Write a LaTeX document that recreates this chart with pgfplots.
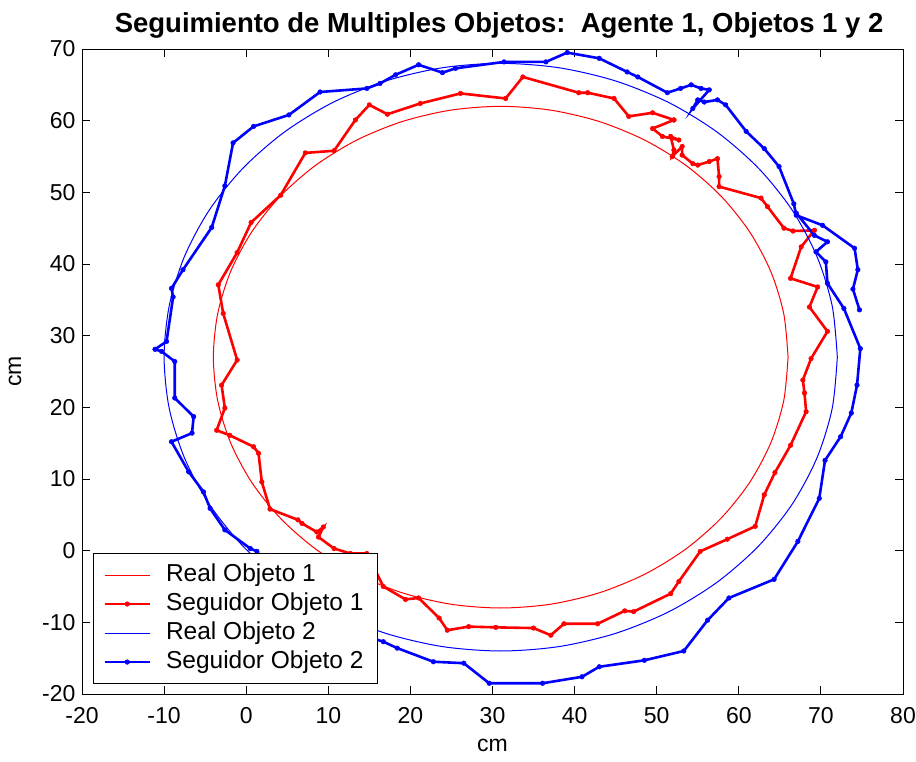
\documentclass[border=0pt]{standalone}
\usepackage{pgfplots}
\pgfplotsset{compat=1.18}
\usepackage{fontspec}
\setmainfont{Liberation Sans}

\newcommand\labfont{\fontsize{23bp}{27bp}\selectfont}
\newcommand\legfont{\fontsize{24.5bp}{29bp}\selectfont}
\newcommand\titfont{\fontsize{27.5bp}{31bp}\selectfont\bfseries}

\begin{document}
\begin{tikzpicture}
\begin{axis}[
  scale only axis, width=821bp, height=645bp,
  xmin=-20, xmax=80, ymin=-20, ymax=70,
  xtick={-20,-10,...,80}, ytick={-20,-10,...,70},
  tick align=inside, major tick length=8bp,
  axis line style={line width=0.9bp},
  every tick/.style={black, line width=0.9bp},
  tick label style={font=\labfont},
  xticklabel style={yshift=-10bp},
  yticklabel style={xshift=-3bp},
  /pgf/number format/assume math mode=true,
  xlabel={cm}, ylabel={cm},
  label style={font=\labfont},
  xlabel style={at={(axis description cs:0.5,-0.079)}, anchor=center},
  ylabel style={at={(axis description cs:-0.0816,0.5)}, anchor=center},
  title={Seguimiento de Multiples Objetos:\ \ Agente 1, Objetos 1 y 2},
  title style={font=\titfont, at={(axis description cs:0.508,1.028)}, anchor=center},
  legend style={at={(axis description cs:0.0134,0.0155)}, anchor=south west,
    font=\legfont, draw=black, line width=0.9bp, fill=white,
    inner xsep=10bp, inner ysep=7bp,
    nodes={inner xsep=4bp, inner ysep=2.5bp, text height=18bp, text depth=6bp},
    /tikz/every odd column/.append style={column sep=11bp}},
  legend cell align=left,
  legend image code/.code={\draw[mark repeat=2,mark phase=2,#1]
    plot coordinates {(0bp,0bp) (22.5bp,0bp) (45bp,0bp)};},
]
\coordinate (ll) at (rel axis cs:0,0);

% true trajectory of object 1 (circle, r = 35 around (31,27))
\addplot[red, line width=1bp, smooth] coordinates {
(66,27) (65.47,33.08) (63.89,38.97) (61.31,44.5) (57.81,49.5) (53.5,53.81)
(48.5,57.31) (42.97,59.89) (37.08,61.47) (31,62) (24.92,61.47) (19.03,59.89)
(13.5,57.31) (8.5,53.81) (4.19,49.5) (0.69,44.5) (-1.89,38.97) (-3.47,33.08)
(-4,27) (-3.47,20.92) (-1.89,15.03) (0.69,9.5) (4.19,4.5) (8.5,0.19)
(13.5,-3.31) (19.03,-5.89) (24.92,-7.47) (31,-8) (37.08,-7.47) (42.97,-5.89)
(48.5,-3.31) (53.5,0.19) (57.81,4.5) (61.31,9.5) (63.89,15.03) (65.47,20.92) (66,27)};
\addlegendentry{Real Objeto 1}

% tracker estimate for object 1
\addplot[red, line width=2.6bp, mark=*, mark size=2.3bp,
  mark options={line width=0.5bp, fill=red}] coordinates {
(52.1,60.1) (49.5,58.9) (50.7,57.8) (52.7,57.3) (51.7,57.8) (52.1,55.9) (51.9,55.0)
(53.1,56.4) (53.1,55.2) (54.4,54.0) (55.0,53.8) (56.4,54.3) (57.4,54.7) (57.6,52.2)
(57.6,50.8) (62.7,49.2) (63.5,48.0) (65.5,45.0) (66.6,44.6) (69.2,44.7) (67.6,42.4)
(66.3,38.0) (69.6,36.8) (68.6,34.0) (70.8,30.6) (68.8,26.8) (67.8,23.8) (68.0,22.0)
(68.2,19.4) (66.3,14.7) (64.4,10.9) (63.1,7.8) (62.0,3.4) (58.6,1.6) (55.3,-0.1)
(52.7,-4.3) (51.7,-6.0) (47.2,-8.5) (46.1,-8.4) (42.8,-10.2) (38.7,-10.2) (37.1,-11.8)
(35.0,-10.8) (30.4,-10.7) (27.1,-10.6) (24.5,-11.1) (23.5,-9.4) (21.0,-6.6) (19.4,-6.8)
(16.7,-5.0) (14.7,-0.4) (12.7,-0.4) (10.7,0.3) (8.8,1.9) (9.4,3.3) (8.6,2.6) (6.8,3.8)
(6.3,4.3) (2.9,5.8) (1.9,9.6) (1.5,13.6) (0.9,14.5) (-2.0,16.1) (-3.6,16.8) (-2.6,19.9)
(-3.0,23.1) (-1.1,26.6) (-2.8,33.1) (-3.4,37.1) (-1.1,41.6) (0.6,45.8) (4.2,49.6)
(7.2,55.5) (10.7,55.8) (13.3,60.1) (15.0,62.2) (17.2,60.9) (21.2,62.4) (26.1,63.8)
(31.6,63.1) (33.7,66.1) (40.5,63.9) (41.6,63.9) (44.8,63.1) (46.6,60.6) (49.5,61.1)
(52.1,60.1)};
\addlegendentry{Seguidor Objeto 1}

% true trajectory of object 2 (circle, r = 41 around (31,27))
\addplot[blue, line width=1bp, smooth] coordinates {
(72,27) (71.38,34.12) (69.53,41.02) (66.51,47.5) (62.41,53.35) (57.35,58.41)
(51.5,62.51) (45.02,65.53) (38.12,67.38) (31,68) (23.88,67.38) (16.98,65.53)
(10.5,62.51) (4.65,58.41) (-0.41,53.35) (-4.51,47.5) (-7.53,41.02) (-9.38,34.12)
(-10,27) (-9.38,19.88) (-7.53,12.98) (-4.51,6.5) (-0.41,0.65) (4.65,-4.41)
(10.5,-8.51) (16.98,-11.53) (23.88,-13.38) (31,-14) (38.12,-13.38) (45.02,-11.53)
(51.5,-8.51) (57.35,-4.41) (62.41,0.65) (66.51,6.5) (69.53,12.98) (71.38,19.88) (72,27)};
\addlegendentry{Real Objeto 2}

% tracker estimate for object 2
\addplot[blue, line width=2.6bp, mark=*, mark size=2.3bp,
  mark options={line width=0.5bp, fill=blue}] coordinates {
(74.7,33.6) (73.9,36.5) (74.5,39.2) (74.1,42.2) (70.2,45.4) (67.0,46.8) (66.7,48.4)
(64.9,53.6) (63.1,56.1) (60.9,58.5) (58.4,62.2) (57.4,62.9) (55.8,62.6) (55.0,62.9)
(54.4,61.7) (56.4,64.3) (55.4,64.5) (54.2,65.0) (52.9,64.5) (51.3,63.9) (47.7,66.1)
(46.4,66.8) (43.0,68.7) (39.1,69.5) (36.5,68.2) (31.4,68.2) (25.5,67.3) (23.9,66.7)
(21.0,67.8) (18.2,66.4) (16.3,65.2) (14.7,64.5) (9.0,64.0) (5.2,60.8) (0.9,59.2)
(-1.6,56.9) (-2.6,50.9) (-4.2,45.1) (-7.7,39.2) (-9.1,36.6) (-8.9,35.4) (-9.7,29.2)
(-11.1,28.1) (-10.3,27.8) (-8.7,26.4) (-8.7,21.3) (-6.4,18.7) (-6.6,16.4) (-9.1,15.2)
(-7.0,11.0) (-5.2,8.2) (-4.4,5.9) (-2.6,2.9) (0.5,0.3) (1.3,-0.1) (5.4,-6.6)
(11.5,-10.8) (16.7,-12.7) (18.4,-13.6) (22.8,-15.5) (26.5,-15.7) (29.6,-18.5)
(36.1,-18.5) (40.9,-17.6) (43.0,-16.2) (48.5,-15.3) (53.3,-14.0) (56.2,-9.7)
(58.8,-6.6) (64.3,-4.0) (67.2,1.3) (69.8,7.3) (70.5,12.6) (72.4,15.9) (73.7,19.2)
(74.4,23.1) (74.8,28.2) (72.8,33.8) (70.8,37.3) (70.6,40.3) (69.4,41.7) (70.8,43.1)
(69.2,44.0) (67.0,47.1)};
\addlegendentry{Seguidor Objeto 2}
\end{axis}
\pgfresetboundingbox
\path[use as bounding box] (ll) ++(-82bp,-68bp) rectangle ++(916bp,762bp);
\end{tikzpicture}
\end{document}
